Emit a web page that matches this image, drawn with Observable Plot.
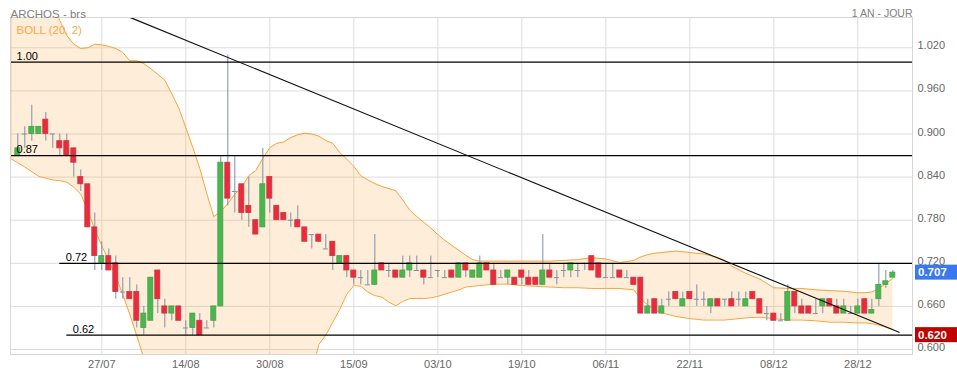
<!DOCTYPE html>
<html><head><meta charset="utf-8">
<script src="https://cdn.jsdelivr.net/npm/d3@7"></script>
<script src="https://cdn.jsdelivr.net/npm/@observablehq/plot@0.6"></script>
<style>
body{margin:0;background:#fff;}
#chart svg{display:block;font-family:"Liberation Sans",Arial,sans-serif;}
</style>
</head><body><div id="chart"></div>
<script>
// Candles (trading-day index 0..125)
const opens  = [0.87,0.90,0.90,0.90,0.92,0.90,0.89,0.89,0.88,0.84,0.83,0.77,0.72,0.73,0.72,0.68,0.68,0.68,0.63,0.64,
0.71,0.66,0.65,0.66,0.63,0.63,0.64,0.63,0.64,0.66,0.86,0.82,0.83,0.80,0.78,0.77,0.84,0.80,0.79,0.78,
0.78,0.77,0.76,0.76,0.74,0.75,0.72,0.73,0.71,0.70,0.69,0.69,0.72,0.71,0.71,0.70,0.71,0.71,0.71,0.70,
0.71,0.70,0.71,0.70,0.72,0.70,0.70,0.72,0.71,0.70,0.70,0.70,0.71,0.70,0.70,0.69,0.71,0.70,0.71,0.71,
0.71,0.72,0.73,0.72,0.70,0.70,0.71,0.70,0.70,0.70,0.65,0.67,0.65,0.67,0.68,0.66,0.68,0.67,0.67,0.66,
0.67,0.67,0.67,0.67,0.66,0.68,0.67,0.65,0.65,0.64,0.64,0.68,0.66,0.66,0.65,0.66,0.67,0.66,0.65,0.65,
0.65,0.67,0.65,0.67,0.69,0.70];
const highs  = [0.90,0.91,0.94,0.91,0.93,0.90,0.90,0.90,0.88,0.85,0.83,0.79,0.75,0.74,0.73,0.70,0.70,0.69,0.66,0.70,
0.71,0.67,0.66,0.66,0.64,0.65,0.65,0.64,0.66,0.87,1.01,0.87,0.83,0.84,0.78,0.88,0.84,0.80,0.79,0.79,
0.80,0.77,0.76,0.76,0.76,0.75,0.73,0.73,0.71,0.71,0.71,0.76,0.72,0.72,0.71,0.73,0.73,0.73,0.71,0.73,
0.71,0.71,0.71,0.72,0.72,0.71,0.73,0.72,0.72,0.71,0.71,0.70,0.71,0.71,0.70,0.76,0.72,0.71,0.72,0.72,
0.72,0.72,0.73,0.72,0.72,0.72,0.71,0.71,0.70,0.70,0.67,0.67,0.67,0.68,0.68,0.68,0.68,0.69,0.68,0.67,
0.67,0.67,0.68,0.68,0.68,0.68,0.67,0.66,0.65,0.65,0.69,0.68,0.67,0.66,0.67,0.67,0.67,0.67,0.67,0.66,
0.67,0.67,0.67,0.72,0.71,0.71];
const lows   = [0.87,0.88,0.89,0.90,0.89,0.88,0.87,0.87,0.84,0.82,0.77,0.71,0.71,0.71,0.67,0.67,0.67,0.63,0.62,0.64,
0.65,0.63,0.64,0.64,0.62,0.62,0.62,0.63,0.63,0.66,0.80,0.79,0.78,0.77,0.76,0.77,0.79,0.78,0.78,0.77,
0.77,0.75,0.74,0.75,0.74,0.71,0.72,0.70,0.69,0.69,0.69,0.69,0.71,0.70,0.70,0.70,0.70,0.71,0.69,0.70,
0.70,0.70,0.70,0.70,0.70,0.70,0.70,0.71,0.69,0.70,0.69,0.69,0.69,0.69,0.69,0.69,0.70,0.69,0.70,0.70,
0.70,0.71,0.71,0.70,0.70,0.70,0.70,0.70,0.69,0.65,0.65,0.65,0.65,0.66,0.67,0.66,0.67,0.66,0.66,0.65,
0.66,0.66,0.66,0.66,0.66,0.67,0.65,0.64,0.64,0.64,0.64,0.65,0.65,0.65,0.65,0.65,0.66,0.65,0.65,0.65,
0.65,0.65,0.65,0.66,0.685,0.70];
const closes = [0.88,0.90,0.91,0.91,0.90,0.90,0.88,0.87,0.86,0.83,0.77,0.73,0.73,0.71,0.68,0.68,0.67,0.64,0.65,0.70,
0.67,0.65,0.66,0.64,0.63,0.65,0.62,0.63,0.66,0.86,0.81,0.82,0.79,0.79,0.76,0.83,0.81,0.78,0.78,0.78,
0.77,0.75,0.76,0.75,0.74,0.73,0.73,0.71,0.70,0.70,0.69,0.71,0.71,0.71,0.70,0.71,0.72,0.71,0.70,0.70,
0.71,0.70,0.70,0.72,0.71,0.71,0.72,0.71,0.69,0.70,0.71,0.69,0.70,0.69,0.69,0.71,0.70,0.70,0.71,0.72,
0.71,0.72,0.71,0.70,0.70,0.70,0.70,0.70,0.69,0.65,0.66,0.65,0.66,0.67,0.67,0.67,0.67,0.67,0.67,0.67,
0.66,0.67,0.66,0.67,0.67,0.67,0.65,0.65,0.64,0.64,0.68,0.66,0.65,0.65,0.65,0.67,0.66,0.65,0.66,0.65,
0.66,0.65,0.655,0.69,0.695,0.707];

// Bollinger band (20, 2)
const bandIdx   = [-1.04,1,3,5,6,7,8,9,10,11,12,13,14,15,16,17,18,19,20,21,22,23,24,25,26,27,28,29,30,31,32,33,34,35,36,37,38,39,40,41,42,43,44,45,46,47,48,49,50,51,52,53,54,55,56,57,58,59,60,61,62,63,64,65,66,68,70,72,74,76,78,80,82,84,86,88,89,90,91,92,94,96,98,100,101,102,104,106,107,108,110,112,114,116,118,120,121,122,123,124,125];
const bandUpper = [1.12,1.11,1.10,1.08,1.058,1.037,1.025,1.019,1.020,1.025,1.024,1.022,1.019,1.0135,1.002,1.002,0.998,0.991,0.983,0.975,0.956,0.936,0.909,0.881,0.852,0.817,0.785,0.792,0.803,0.816,0.826,0.842,0.849,0.866,0.881,0.887,0.889,0.895,0.899,0.901,0.900,0.897,0.891,0.887,0.874,0.865,0.855,0.842,0.836,0.831,0.827,0.824,0.821,0.808,0.794,0.785,0.777,0.769,0.760,0.752,0.745,0.738,0.731,0.725,0.723,0.723,0.723,0.723,0.723,0.723,0.724,0.725,0.728,0.726,0.721,0.724,0.729,0.732,0.734,0.735,0.737,0.735,0.733,0.728,0.724,0.716,0.706,0.698,0.692,0.686,0.685,0.685,0.683,0.682,0.681,0.679,0.679,0.680,0.685,0.692,0.699];
const bandLower = [0.866,0.854,0.841,0.836,0.835,0.833,0.826,0.816,0.794,0.767,0.744,0.724,0.702,0.676,0.649,0.619,0.588,0.575,0.565,0.560,0.555,0.552,0.550,0.550,0.550,0.552,0.555,0.545,0.530,0.520,0.510,0.500,0.495,0.490,0.490,0.490,0.495,0.500,0.510,0.530,0.567,0.607,0.620,0.638,0.656,0.677,0.689,0.688,0.680,0.675,0.673,0.666,0.661,0.667,0.671,0.671,0.671,0.672,0.674,0.677,0.680,0.683,0.687,0.688,0.689,0.691,0.691,0.689,0.688,0.687,0.686,0.686,0.685,0.685,0.685,0.683,0.670,0.662,0.655,0.651,0.646,0.643,0.641,0.641,0.641,0.642,0.644,0.645,0.644,0.643,0.641,0.641,0.640,0.638,0.638,0.637,0.637,0.636,0.634,0.631,0.628];

// Horizontal levels and trend line
const levelValues = [1.00, 0.87, 0.72, 0.62];
const levelLabels = ["1.00", "0.87", "0.72", "0.62"];
const levelStart  = [-1.04, -1.04, 6, 7];
const trendIdx = [16.1, 125.9];
const trendVal = [1.062, 0.624];

// Axis ticks
const xTickIdx    = [12, 24, 36, 48, 60, 72, 84, 96, 108, 120];
const xTickLabels = ["27/07","14/08","30/08","15/09","03/10","19/10","06/11","22/11","08/12","28/12"];
const yTicks = [0.60, 0.66, 0.72, 0.78, 0.84, 0.90, 0.96, 1.02];
const lastPrice = 0.707, supportPrice = 0.620;

const X0 = -1.043, X1 = 127.81;
const candles = opens.map((o, i) => ({i, o, h: highs[i], l: lows[i], c: closes[i]}));
const bodies = candles.filter(d => d.o !== d.c);
const dojis = candles.filter(d => d.o === d.c);
const band = bandIdx.map((i, k) => ({i, up: bandUpper[k], lo: bandLower[k]}));
const levels = levelValues.map((v, k) => ({v, s: levelStart[k], label: levelLabels[k]}));
const trend = trendIdx.map((i, k) => ({i, v: trendVal[k]}));
const xLabel = new Map(xTickIdx.map((d, k) => [d, xTickLabels[k]]));
const W = 0.36;
const FONT = '"Liberation Sans", Arial, sans-serif';

const chart = Plot.plot({
  width: 957, height: 375,
  marginLeft: 10, marginRight: 45, marginTop: 17, marginBottom: 21,
  style: {fontFamily: FONT, fontSize: "11px", background: "#fff", overflow: "visible"},
  x: {type: "linear", domain: [X0, X1], axis: null},
  y: {domain: [0.59305, 1.06217], axis: null},
  marks: [
    Plot.ruleX(xTickIdx, {stroke: "#dcdcdc"}),
    Plot.ruleY(yTicks, {stroke: "#dcdcdc"}),
    Plot.areaY(band, {x: "i", y1: "lo", y2: "up", fill: "#f8a443", fillOpacity: 0.2, clip: true}),
    Plot.line(band, {x: "i", y: "up", stroke: "#f9a33a", strokeWidth: 1, clip: true}),
    Plot.line(band, {x: "i", y: "lo", stroke: "#f9a33a", strokeWidth: 1, clip: true}),
    Plot.ruleX([band[0]], {x: "i", y1: "lo", y2: "up", stroke: "#f9a33a", strokeWidth: 1.5, clip: true}),
    Plot.ruleX(candles, {x: "i", y1: "l", y2: "h", stroke: "#7f90a6", strokeWidth: 1}),
    Plot.rect(bodies, {
      x1: d => d.i - W, x2: d => d.i + W,
      y1: d => Math.min(d.o, d.c), y2: d => Math.max(d.o, d.c),
      fill: d => d.c > d.o ? "#4cb54f" : "#ec2a3b",
      stroke: d => d.c > d.o ? "#44a347" : "#c23a44", strokeWidth: 0.8
    }),
    Plot.ruleY(dojis, {y: "o", x1: d => d.i - W, x2: d => d.i + W, stroke: "#7f90a6", strokeWidth: 1}),
    Plot.ruleY(levels, {y: "v", x1: "s", x2: X1, stroke: "#000", strokeWidth: 1.2}),
    Plot.text(levels, {x: "s", y: "v", text: "label", textAnchor: "start", dx: 6, dy: -6, fill: "#000", fontSize: 11}),
    Plot.line(trend, {x: "i", y: "v", stroke: "#111", strokeWidth: 1.1, clip: true}),
    Plot.frame({stroke: "#d6d6d6"}),
    Plot.axisX({ticks: xTickIdx, tickFormat: d => xLabel.get(d), tickSize: 0, tickPadding: 6, label: null, fill: "#666", fontSize: 11}),
    Plot.axisY({anchor: "right", ticks: yTicks, tickFormat: d3.format(".3f"), tickSize: 0, tickPadding: 5, dy: -2, label: null, fill: "#666", fontSize: 11}),
    Plot.text(["ARCHOS - brs"], {frameAnchor: "top-left", text: d => d, dy: -8, fill: "#808080", fontSize: 11.5, textAnchor: "start"}),
    Plot.text(["1 AN - JOUR"], {frameAnchor: "top-right", text: d => d, dy: -8, fill: "#808080", fontSize: 10.5, textAnchor: "end"}),
    Plot.text(["BOLL (20, 2)"], {frameAnchor: "top-left", text: d => d, dx: 6, dy: 8, fill: "#f9a847", fontSize: 11.5, textAnchor: "start"})
  ]
});

// price flags on the right axis, positioned through the plot's y scale
const ys = chart.scale("y");
const svg = d3.select(chart);
[[lastPrice, "#3b78f0"], [supportPrice, "#c00000"]].forEach(([v, col]) => {
  const y = ys.apply(v);
  const g = svg.append("g");
  g.append("rect").attr("x", 915).attr("y", y - 7.5).attr("width", 42).attr("height", 15).attr("fill", col);
  g.append("text").attr("x", 918).attr("y", y).attr("dy", "0.35em").attr("fill", "#fff")
    .attr("text-anchor", "start")
    .attr("font-size", 11.5).attr("font-weight", "bold").attr("font-family", FONT).text(v.toFixed(3));
});

document.getElementById("chart").appendChild(chart);
</script>
</body></html>
